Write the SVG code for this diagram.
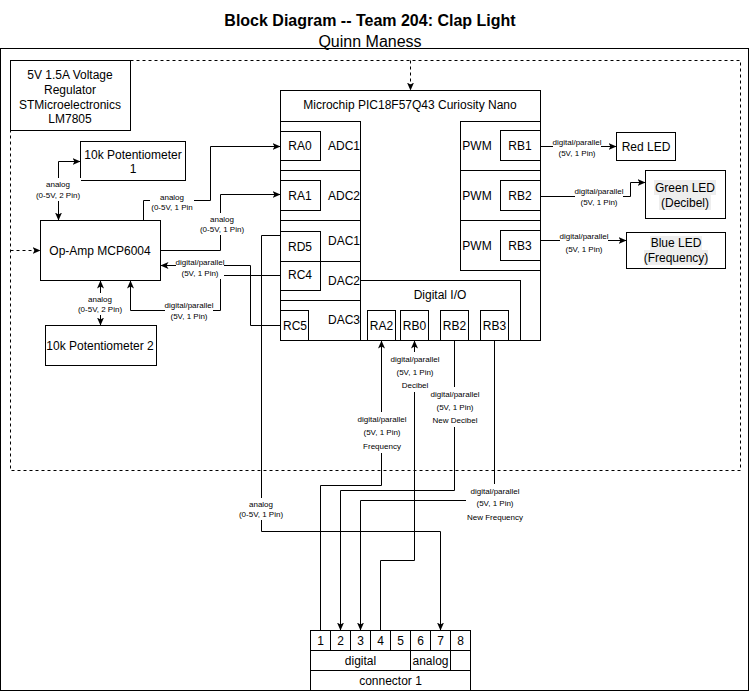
<svg xmlns="http://www.w3.org/2000/svg" width="751" height="691" viewBox="0 0 751 691">
<defs>
<style>
.b{fill:#fff;stroke:#000;stroke-width:1}
.c{fill:none;stroke:#000;stroke-width:1}
.d{stroke-dasharray:3 3}
.bg{fill:#fff;stroke:none}
.hl{fill:#eeeeee;stroke:none}
text{font-family:"Liberation Sans",Arial,Helvetica,sans-serif;fill:#000;text-anchor:middle;dominant-baseline:central}
.t{font-size:12px}
.e{font-size:8px}
.h{font-size:16px}
</style>
<marker id="a" viewBox="0 0 8 8" refX="8" refY="4" markerWidth="8" markerHeight="8" markerUnits="userSpaceOnUse" orient="auto-start-reverse"><path d="M0,0.5 L8,4 L0,7.5 L2,4 Z" fill="#000"/></marker>
</defs>
<rect width="751" height="691" fill="#fff"/>
<g id="title">
<text class="h" x="370" y="20" font-weight="bold">Block Diagram -- Team 204: Clap Light</text>
<text class="h" x="370" y="41">Quinn Maness</text>
</g>
<g id="outer"><rect class="c" x="0.5" y="48.5" width="748" height="642"/></g>
<g id="dashed-region"><rect class="c d" x="10.5" y="60.5" width="730" height="410"/></g>
<g id="regulator">
<rect class="b" x="10.5" y="60.5" width="120" height="70"/>
<text class="t" x="70" y="75">5V 1.5A Voltage</text>
<text class="t" x="70" y="90">Regulator</text>
<text class="t" x="70" y="104.5">STMicroelectronics</text>
<text class="t" x="70" y="119">LM7805</text>
</g>
<g id="pot1">
<rect class="b" x="80.5" y="141.5" width="105" height="39"/>
<text class="t" x="133" y="155">10k Potentiometer</text>
<text class="t" x="133" y="169">1</text>
</g>
<g id="opamp">
<rect class="b" x="40.5" y="220.5" width="120" height="60"/>
<text class="t" x="100" y="251">Op-Amp MCP6004</text>
</g>
<g id="pot2">
<rect class="b" x="45.5" y="325.5" width="111" height="40"/>
<text class="t" x="100" y="346">10k Potentiometer 2</text>
</g>
<g id="mcu">
<rect class="b" x="280.5" y="90.5" width="260" height="250"/>
<text class="t" x="410" y="105">Microchip PIC18F57Q43 Curiosity Nano</text>
<rect class="b" x="280.5" y="121.5" width="80" height="49"/>
<rect class="b" x="280.5" y="170.5" width="80" height="50"/>
<rect class="b" x="280.5" y="220.5" width="80" height="41"/>
<rect class="b" x="280.5" y="261.5" width="80" height="39"/>
<rect class="b" x="280.5" y="300.5" width="80" height="40"/>
<rect class="b" x="280.5" y="131.5" width="40" height="29"/>
<rect class="b" x="280.5" y="180.5" width="40" height="30"/>
<rect class="b" x="280.5" y="231.5" width="40" height="30"/>
<rect class="b" x="280.5" y="261.5" width="40" height="29"/>
<rect class="b" x="280.5" y="310.5" width="28" height="30"/>
<text class="t" x="300" y="146">RA0</text>
<text class="t" x="344" y="146">ADC1</text>
<text class="t" x="300" y="196">RA1</text>
<text class="t" x="344" y="196">ADC2</text>
<text class="t" x="300" y="247">RD5</text>
<text class="t" x="344" y="241">DAC1</text>
<text class="t" x="300" y="275">RC4</text>
<text class="t" x="344" y="281">DAC2</text>
<text class="t" x="295" y="326">RC5</text>
<text class="t" x="344" y="320">DAC3</text>
<rect class="b" x="460.5" y="121.5" width="80" height="49"/>
<rect class="b" x="460.5" y="170.5" width="80" height="50"/>
<rect class="b" x="460.5" y="220.5" width="80" height="50"/>
<rect class="b" x="500.5" y="130.5" width="40" height="30"/>
<rect class="b" x="500.5" y="180.5" width="40" height="30"/>
<rect class="b" x="500.5" y="230.5" width="40" height="30"/>
<text class="t" x="477" y="146">PWM</text>
<text class="t" x="477" y="196">PWM</text>
<text class="t" x="477" y="246">PWM</text>
<text class="t" x="520" y="146">RB1</text>
<text class="t" x="520" y="196">RB2</text>
<text class="t" x="520" y="246">RB3</text>
<rect class="b" x="360.5" y="280.5" width="160" height="60"/>
<text class="t" x="440" y="295">Digital I/O</text>
<rect class="b" x="367.5" y="310.5" width="28" height="30"/>
<rect class="b" x="400.5" y="310.5" width="28" height="30"/>
<rect class="b" x="440.5" y="310.5" width="28" height="30"/>
<rect class="b" x="480.5" y="310.5" width="28" height="30"/>
<text class="t" x="381.5" y="326">RA2</text>
<text class="t" x="414.5" y="326">RB0</text>
<text class="t" x="454.5" y="326">RB2</text>
<text class="t" x="494.5" y="326">RB3</text>
</g>
<g id="red-led">
<rect class="b" x="616.5" y="132.5" width="59" height="28"/>
<text class="t" x="646" y="146.5">Red LED</text>
</g>
<g id="green-led">
<rect class="b" x="645.5" y="170.5" width="80" height="48"/>
<rect class="hl" x="654" y="180" width="62" height="15"/>
<rect class="hl" x="659" y="195" width="52" height="15"/>
<text class="t" x="685" y="187.5">Green LED</text>
<text class="t" x="685" y="202.5">(Decibel)</text>
</g>
<g id="blue-led">
<rect class="b" x="626.5" y="232.5" width="99" height="36"/>
<rect class="hl" x="650" y="236" width="52" height="14"/>
<rect class="hl" x="644" y="250" width="64" height="15"/>
<text class="t" x="676" y="243">Blue LED</text>
<text class="t" x="676" y="257.5">(Frequency)</text>
</g>
<g id="connector1">
<rect class="b" x="310.5" y="630.5" width="160" height="60"/>
<path class="c" d="M310.5,650.5H470.5M310.5,670.5H470.5M330.5,630.5V650.5M350.5,630.5V650.5M370.5,630.5V650.5M390.5,630.5V650.5M410.5,630.5V670.5M430.5,630.5V650.5M450.5,630.5V670.5"/>
<text class="t" x="320.5" y="640.5">1</text>
<text class="t" x="340.5" y="640.5">2</text>
<text class="t" x="360.5" y="640.5">3</text>
<text class="t" x="380.5" y="640.5">4</text>
<text class="t" x="400.5" y="640.5">5</text>
<text class="t" x="420.5" y="640.5">6</text>
<text class="t" x="440.5" y="640.5">7</text>
<text class="t" x="460.5" y="640.5">8</text>
<text class="t" x="360.5" y="660.5">digital</text>
<text class="t" x="430.5" y="660.5">analog</text>
<text class="t" x="390.5" y="680.5">connector 1</text>
</g>
<g id="connectors">
<path class="c d" d="M10.5,250.5H40.5" marker-end="url(#a)"/>
<path class="c d" d="M410.5,60.5V90.5" marker-end="url(#a)"/>
<path class="c" d="M58.5,220.5V161.5H80.5" marker-start="url(#a)" marker-end="url(#a)"/>
<path class="c" d="M100.5,280.5V325.5" marker-start="url(#a)" marker-end="url(#a)"/>
<path class="c" d="M143.5,220.5V200.5H210.5V146.5H280.5" marker-end="url(#a)"/>
<path class="c" d="M160.5,250.5H220.5V194.5H280.5" marker-end="url(#a)"/>
<path class="c" d="M280.5,325.5H250.5V265.5H160.5" marker-end="url(#a)"/>
<path class="c" d="M280.5,275.5H220.5V310.5H130.5V280.5" marker-end="url(#a)"/>
<path class="c" d="M280.5,235.5H261.5V531.5H440.5V630.5" marker-end="url(#a)"/>
<path class="c" d="M320.5,630.5V485.5H381.5V340.5" marker-end="url(#a)"/>
<path class="c" d="M380.5,630.5V560.5H414.5V340.5" marker-end="url(#a)"/>
<path class="c" d="M454.5,340.5V490.5H340.5V630.5" marker-end="url(#a)"/>
<path class="c" d="M494.5,340.5V500.5H360.5V630.5" marker-end="url(#a)"/>
<path class="c" d="M540.5,146.5H616.5" marker-end="url(#a)"/>
<path class="c" d="M540.5,196.5H630.5V182.5H645.5" marker-end="url(#a)"/>
<path class="c" d="M540.5,240.5H626.5" marker-end="url(#a)"/>
<g id="edge-labels">
<rect class="bg" x="35" y="178" width="46" height="23"/>
<text class="e" x="58" y="184">analog</text>
<text class="e" x="58" y="195">(0-5V, 2 Pin)</text>
<rect class="bg" x="77" y="293" width="46" height="22"/>
<text class="e" x="100" y="299">analog</text>
<text class="e" x="100" y="309">(0-5V, 2 Pin)</text>
<rect class="bg" x="150" y="191" width="44" height="22"/>
<text class="e" x="172" y="197">analog</text>
<text class="e" x="172" y="207">(0-5V, 1 Pin</text>
<rect class="bg" x="199" y="213" width="46" height="22"/>
<text class="e" x="222" y="219">analog</text>
<text class="e" x="222" y="229">(0-5V, 1 Pin)</text>
<rect class="bg" x="176" y="256" width="48" height="23"/>
<text class="e" x="200" y="262">digital/parallel</text>
<text class="e" x="200" y="273">(5V, 1 Pin)</text>
<rect class="bg" x="165" y="299" width="48" height="23"/>
<text class="e" x="189" y="305">digital/parallel</text>
<text class="e" x="189" y="316">(5V, 1 Pin)</text>
<rect class="bg" x="238" y="498" width="46" height="22"/>
<text class="e" x="261" y="504">analog</text>
<text class="e" x="261" y="514">(0-5V, 1 Pin)</text>
<rect class="bg" x="358" y="412" width="48" height="41"/>
<text class="e" x="382" y="419">digital/parallel</text>
<text class="e" x="382" y="432">(5V, 1 Pin)</text>
<text class="e" x="382" y="446">Frequency</text>
<rect class="bg" x="391" y="352" width="48" height="40"/>
<text class="e" x="415" y="359">digital/parallel</text>
<text class="e" x="415" y="372">(5V, 1 Pin)</text>
<text class="e" x="415" y="385">Decibel</text>
<rect class="bg" x="431" y="387" width="48" height="40"/>
<text class="e" x="455" y="394">digital/parallel</text>
<text class="e" x="455" y="407">(5V, 1 Pin)</text>
<text class="e" x="455" y="420">New Decibel</text>
<rect class="bg" x="466" y="484" width="58" height="40"/>
<text class="e" x="495" y="491">digital/parallel</text>
<text class="e" x="495" y="503">(5V, 1 Pin)</text>
<text class="e" x="495" y="517">New Frequency</text>
<rect class="bg" x="553" y="136" width="48" height="23"/>
<text class="e" x="577" y="142">digital/parallel</text>
<text class="e" x="577" y="153">(5V, 1 Pin)</text>
<rect class="bg" x="575" y="185" width="48" height="23"/>
<text class="e" x="599" y="191">digital/parallel</text>
<text class="e" x="599" y="202">(5V, 1 Pin)</text>
<rect class="bg" x="560" y="230" width="48" height="25"/>
<text class="e" x="584" y="236">digital/parallel</text>
<text class="e" x="584" y="249">(5V, 1 Pin)</text>
</g>
</g>
</svg>
